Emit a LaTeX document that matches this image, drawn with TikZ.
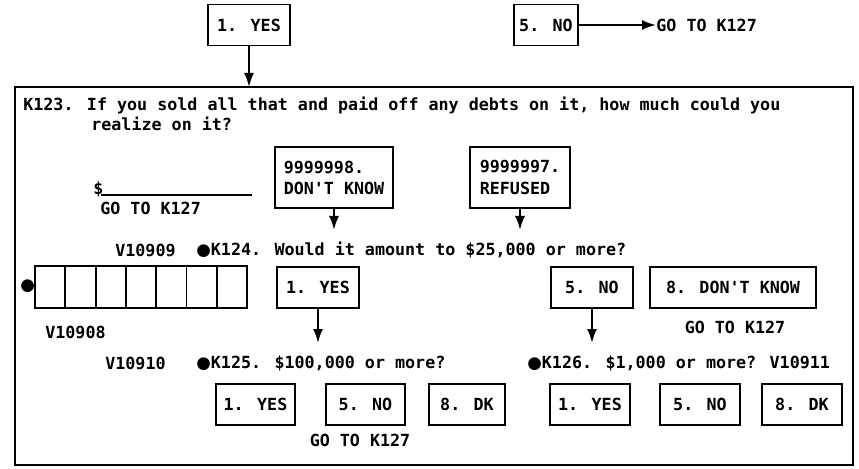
\documentclass[tikz,border=0pt]{standalone}
\usepackage{fontspec}
\setmainfont{DejaVu Sans Mono}
\newfontfamily\dotfont{DejaVu Sans}
\usetikzlibrary{arrows.meta}

\begin{document}
\begin{tikzpicture}[x=0.02cm, y=-0.02cm,
    every node/.style={font=\bfseries\fontsize{9.5}{12}\selectfont},
    optbox/.style={draw, line width=1.1pt, minimum height=0.82cm, inner sep=2pt},
    cellbox/.style={draw, line width=1.1pt, minimum width=0.606cm, minimum height=0.84cm},
    flow/.style={line width=1.1pt, -{Latex[length=2.8mm,width=2mm]}},
    txt/.style={anchor=west, inner sep=0pt}]
  \useasboundingbox (0,0) rectangle (859,469);

  % entry answers
  \node[optbox, minimum width=1.64cm] (yesTop) at (249,25) {1. YES};
  \node[optbox, minimum width=1.28cm] (noTop) at (546,25) {5. NO};
  \node[txt] (goTop) at (656,25) {GO TO K127};
  \draw[flow] (noTop.east) -- (goTop.west);

  % question frame
  \coordinate (frameNW) at (15,87);
  \coordinate (frameSE) at (853,465);
  \draw[line width=1.1pt] (frameNW) rectangle (frameSE);
  \draw[flow] (yesTop.south) -- (yesTop.south |- frameNW);

  % K123
  \node[txt] (q123) at (23,105) {K123. If you sold all that and paid off any debts on it, how much could you};
  \node[txt] (q123b) at (91,124) {realize on it?};
  \node[txt] (dollar) at (93,189) {\$};
  \coordinate (lineL) at (101,195);
  \coordinate (lineR) at (252,195);
  \draw[line width=0.9pt] (lineL) -- (lineR);
  \node[txt] (goDollar) at (100,208) {GO TO K127};
  \node[optbox, minimum width=2.36cm, minimum height=1.22cm, align=left] (dkAmt) at (334,177.5) {9999998.\\DON\textquotesingle T KNOW};
  \node[optbox, minimum width=2.0cm, minimum height=1.22cm, align=left] (refAmt) at (520,177.5) {9999997.\\REFUSED};
  \coordinate (dkEnd) at (334,230);
  \coordinate (refEnd) at (520,230);
  \draw[flow] (dkAmt.south) -- (dkEnd);
  \draw[flow] (refAmt.south) -- (refEnd);

  % K124
  \node[txt] (v10909) at (115,250) {V10909};
  \node[txt] (q124) at (196,250) {{\dotfont ●}K124. Would it amount to \$25,000 or more?};
  \node[txt] (dotGrid) at (20,286) {\dotfont ●};
  \foreach \i in {0,...,6}
    \node[cellbox] (cell\i) at (50.15+30.3*\i,287) {};
  \node[txt] (v10908) at (45,332) {V10908};
  \node[optbox, minimum width=1.64cm] (yes124) at (318,287.5) {1. YES};
  \node[optbox, minimum width=1.64cm] (no124) at (592,287.5) {5. NO};
  \node[optbox, minimum width=3.32cm] (dk124) at (733,287.5) {8. DON\textquotesingle T KNOW};
  \node (goDk) at (735,327) {GO TO K127};
  \coordinate (yesEnd) at (318,343);
  \coordinate (noEnd) at (592,343);
  \draw[flow] (yes124.south) -- (yesEnd);
  \draw[flow] (no124.south) -- (noEnd);

  % K125 and K126
  \node[txt] (v10910) at (105,363) {V10910};
  \node[txt] (q125) at (196,363) {{\dotfont ●}K125. \$100,000 or more?};
  \node[txt] (q126) at (527,363) {{\dotfont ●}K126. \$1,000 or more? V10911};
  \node[optbox, minimum width=1.58cm] (yes125) at (255.5,404.5) {1. YES};
  \node[optbox, minimum width=1.58cm] (no125) at (365.5,404.5) {5. NO};
  \node[optbox, minimum width=1.52cm] (dk125) at (467,404.5) {8. DK};
  \node (go125) at (360,440) {GO TO K127};
  \node[optbox, minimum width=1.6cm] (yes126) at (590,404.5) {1. YES};
  \node[optbox, minimum width=1.6cm] (no126) at (700,404.5) {5. NO};
  \node[optbox, minimum width=1.6cm] (dk126) at (802,404.5) {8. DK};
\end{tikzpicture}
\end{document}
